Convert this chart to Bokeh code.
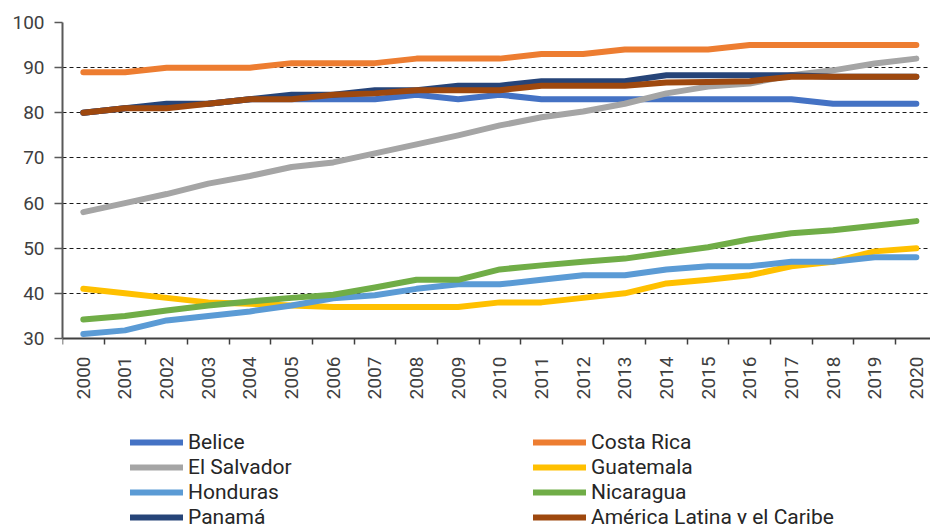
import math
from bokeh.plotting import figure
from bokeh.models import (ColumnDataSource, Range1d, FixedTicker, Legend, LegendItem)
from bokeh.embed import file_html
from bokeh.resources import INLINE

years = list(range(2000, 2021))

belice = [80, 81, 81.5, 82, 83, 83, 83, 83, 84, 83, 84, 83, 83, 83, 83, 83, 83, 83, 82, 82, 82]
costa_rica = [89, 89, 90, 90, 90, 91, 91, 91, 92, 92, 92, 93, 93, 94, 94, 94, 95, 95, 95, 95, 95]
el_salvador = [58, 60, 62, 64.3, 66, 68, 69, 71, 73, 75, 77.2, 79, 80.3, 82, 84.3, 85.8, 86.5, 88.3, 89.4, 90.9, 92]
guatemala = [41, 40, 39, 38, 37.7, 37.3, 37, 37, 37, 37, 38, 38, 39, 40, 42.2, 43, 44, 46, 47, 49.3, 50]
honduras = [31, 31.8, 34, 35, 36, 37.3, 38.9, 39.6, 41, 42, 42, 43, 44, 44, 45.3, 46, 46, 47, 47, 48, 48]
nicaragua = [34.2, 35, 36.2, 37.3, 38.2, 39, 39.7, 41.3, 43, 43, 45.3, 46.2, 47, 47.7, 49, 50.2, 52, 53.3, 54, 55, 56]
panama = [80, 81, 82, 82, 83, 84, 84, 85, 85, 86, 86, 87, 87, 87, 88.3, 88.3, 88.3, 88.3, 88, 88, 88]
alc = [80, 81, 81, 82, 83, 83, 84, 84.3, 85, 85, 85, 86, 86, 86, 86.7, 86.8, 87, 88, 88, 88, 88]

series_names = ["Belice", "Costa Rica", "El Salvador", "Guatemala", "Honduras",
                "Nicaragua", "Panamá", "América Latina y el Caribe"]
series_values = [belice, costa_rica, el_salvador, guatemala, honduras, nicaragua, panama, alc]
series_colors = ["#4472C4", "#ED7D31", "#A5A5A5", "#FFC000", "#5B9BD5",
                 "#70AD47", "#264478", "#9E480E"]
legend_order = ["Belice", "El Salvador", "Honduras", "Panamá",
                "Costa Rica", "Guatemala", "Nicaragua", "América Latina y el Caribe"]

y_ticks = [30, 40, 50, 60, 70, 80, 90, 100]
y_min, y_max = 30, 100

FONT = "Roboto"

# frame spans from y=22 to the bottom; the x axis sits at y=30
px_per_unit = (338 - 22) / (y_max - y_min)
y_low = y_min - (524 - 338) / px_per_unit

p = figure(width=930, height=524, output_backend="svg", toolbar_location=None,
           x_range=Range1d(1999.5, 2020.34), y_range=Range1d(y_low, y_max),
           min_border_left=62, min_border_right=0, min_border_top=22,
           min_border_bottom=0)
p.outline_line_color = None
p.background_fill_color = "white"
p.border_fill_color = "white"

data = {"year": years}
for n, v in zip(series_names, series_values):
    data[n] = v
src = ColumnDataSource(data)

renderers = {}
for n, c in zip(series_names, series_colors):
    r = p.line(x="year", y=n, source=src, line_color=c, line_width=6,
               line_cap="round", line_join="round")
    renderers[n] = r

# grid
p.xgrid.grid_line_color = None
p.ygrid.grid_line_color = "#1a1a1a"
p.ygrid.grid_line_dash = "4 3"
p.ygrid.grid_line_width = 1
p.ygrid.ticker = FixedTicker(ticks=y_ticks[1:])

# y axis
ya = p.yaxis[0]
ya.ticker = FixedTicker(ticks=y_ticks)
ya.bounds = (y_min, y_max)
ya.axis_line_color = "#595959"
ya.axis_line_width = 2
ya.major_tick_line_color = "#595959"
ya.major_tick_line_width = 1.5
ya.major_tick_out = 8
ya.major_tick_in = 0
ya.minor_tick_line_color = None
ya.major_label_text_font = FONT
ya.major_label_text_font_size = "19px"
ya.major_label_text_color = "#404040"
ya.major_label_standoff = 10

# x axis, drawn at y = 30
xa = p.xaxis[0]
xa.fixed_location = y_min
xa.ticker = FixedTicker(ticks=years, minor_ticks=[y - 0.5 for y in years] + [2020.5])
xa.axis_line_color = "#404040"
xa.axis_line_width = 2
xa.major_tick_line_color = None
xa.major_tick_out = 0
xa.major_tick_in = 0
xa.minor_tick_line_color = "#404040"
xa.minor_tick_line_width = 1.5
xa.minor_tick_out = 6
xa.minor_tick_in = 0
xa.major_label_orientation = math.pi / 2
xa.major_label_text_font = FONT
xa.major_label_text_font_size = "19px"
xa.major_label_text_color = "#404040"
xa.major_label_standoff = 12

items = [LegendItem(label=n, renderers=[renderers[n]]) for n in legend_order]
legend = Legend(items=items, orientation="vertical", nrows=4,
                location=(68, -5), padding=0, margin=0, spacing=1,
                glyph_width=53, glyph_height=20, label_height=20,
                label_width=344, label_standoff=5,
                label_text_font=FONT, label_text_font_size="21px",
                label_text_color="#262626",
                background_fill_alpha=0, border_line_color=None)
p.add_layout(legend, "center")

open("out.html", "w").write(file_html(p, INLINE))
